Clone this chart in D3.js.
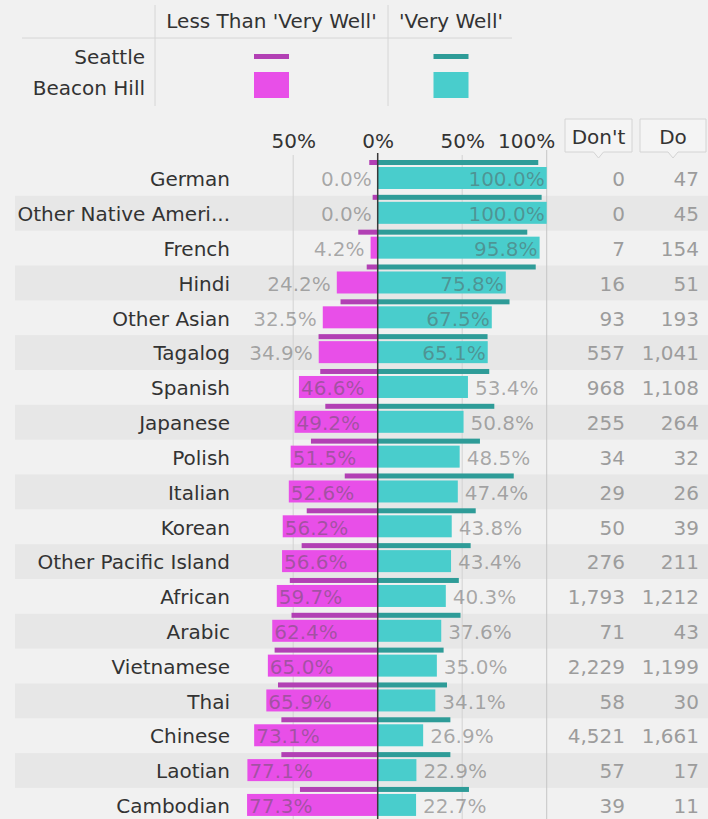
<!DOCTYPE html>
<html>
<head>
<meta charset="utf-8">
<script src="https://cdn.jsdelivr.net/npm/d3@7"></script>
<style>
  html, body { margin: 0; padding: 0; background: #f1f1f1; }
  svg { display: block; font-family: "DejaVu Sans", "Liberation Sans", sans-serif; }
</style>
</head>
<body>
<div id="chart"></div>
<script>
// ---- data ----
const languages = ["German", "Other Native Ameri...", "French", "Hindi", "Other Asian", "Tagalog",
  "Spanish", "Japanese", "Polish", "Italian", "Korean", "Other Pacific Island", "African",
  "Arabic", "Vietnamese", "Thai", "Chinese", "Laotian", "Cambodian"];

// Beacon Hill: speak English less than 'very well' / 'very well' (%)
const bhLess = [0.0, 0.0, 4.2, 24.2, 32.5, 34.9, 46.6, 49.2, 51.5, 52.6, 56.2, 56.6, 59.7, 62.4, 65.0, 65.9, 73.1, 77.1, 77.3];
const bhWell = [100.0, 100.0, 95.8, 75.8, 67.5, 65.1, 53.4, 50.8, 48.5, 47.4, 43.8, 43.4, 40.3, 37.6, 35.0, 34.1, 26.9, 22.9, 22.7];

// Seattle
const seaLess = [5, 3, 11.5, 6.5, 22, 35, 34, 31, 39.5, 19.5, 42, 45, 52, 51, 61, 59, 57, 57, 46];
const seaWell = [95, 97, 88.5, 93.5, 78, 65, 66, 69, 60.5, 80.5, 58, 55, 48, 49, 39, 41, 43, 43, 54];

// counts
const dontCounts = [0, 0, 7, 16, 93, 557, 968, 255, 34, 29, 50, 276, 1793, 71, 2229, 58, 4521, 57, 39];
const doCounts = [47, 45, 154, 51, 193, 1041, 1108, 264, 32, 26, 39, 211, 1212, 43, 1199, 30, 1661, 17, 11];

const axisTicks = [-50, 0, 50, 100];

// ---- style ----
const width = 708, height = 819;
const fontSize = 20;
const textColor = "#333";
const labelColor = "#555";      // percentage labels (drawn with opacity)
const countColor = "#9c9c9c";
const bandColor = "#e7e7e7";
const colors = {
  seaLess: "#b240b4",
  seaWell: "#2e9c98",
  bhLess: "#e84fe8",
  bhWell: "#49cdcc"
};

const rows = languages.map((lang, i) => ({
  lang, i,
  bhLess: bhLess[i], bhWell: bhWell[i],
  seaLess: seaLess[i], seaWell: seaWell[i],
  dont: dontCounts[i], doo: doCounts[i]
}));

const svg = d3.select("#chart").append("svg")
  .attr("width", width).attr("height", height)
  .attr("font-size", fontSize);

svg.append("rect").attr("width", width).attr("height", height).attr("fill", "#f1f1f1");

// scales
const x = d3.scaleLinear().domain([-100, 100]).range([377.7 - 169, 377.7 + 169]);
const y = d3.scaleBand().domain(languages).range([161, 161 + 34.83 * languages.length]);
const bw = y.bandwidth();

// ---- row bands ----
svg.append("g")
  .selectAll("rect")
  .data(rows.filter(d => d.i % 2 === 1))
  .join("rect")
    .attr("x", 15)
    .attr("y", d => y(d.lang))
    .attr("width", width - 15)
    .attr("height", bw)
    .attr("fill", bandColor);

// ---- gridlines ----
const grid = svg.append("g");
grid.selectAll("line")
  .data(axisTicks.filter(t => t !== 0))
  .join("line")
    .attr("x1", d => x(d)).attr("x2", d => x(d))
    .attr("y1", d => d === 100 ? 150 : 155)
    .attr("y2", height)
    .attr("stroke", d => d === 100 ? "#c6c6c6" : "#d2d2d2")
    .attr("stroke-width", 1);

// ---- axis (top) ----
const axis = svg.append("g")
  .attr("transform", "translate(0,152)")
  .call(d3.axisTop(x).tickValues(axisTicks).tickSize(0).tickPadding(4)
    .tickFormat(d => Math.abs(d) + "%"));
axis.select(".domain").remove();
axis.selectAll("text")
  .attr("font-size", fontSize)
  .attr("font-family", "DejaVu Sans, sans-serif")
  .attr("fill", textColor)
  .filter(d => d === 100)
    .attr("text-anchor", "end")
    .attr("dx", 8);

// ---- bars ----
const bars = svg.append("g");

// Seattle (thin)
bars.selectAll(".sea-less")
  .data(rows).join("rect")
    .attr("class", "sea-less")
    .attr("x", d => x(-d.seaLess))
    .attr("y", d => y(d.lang) - 1)
    .attr("width", d => x(0) - x(-d.seaLess))
    .attr("height", 5)
    .attr("fill", colors.seaLess);
bars.selectAll(".sea-well")
  .data(rows).join("rect")
    .attr("class", "sea-well")
    .attr("x", x(0))
    .attr("y", d => y(d.lang) - 1)
    .attr("width", d => x(d.seaWell) - x(0))
    .attr("height", 5)
    .attr("fill", colors.seaWell);

// Beacon Hill (thick)
bars.selectAll(".bh-less")
  .data(rows).join("rect")
    .attr("class", "bh-less")
    .attr("x", d => x(-d.bhLess))
    .attr("y", d => y(d.lang) + 6)
    .attr("width", d => x(0) - x(-d.bhLess))
    .attr("height", 22)
    .attr("fill", colors.bhLess);
bars.selectAll(".bh-well")
  .data(rows).join("rect")
    .attr("class", "bh-well")
    .attr("x", x(0))
    .attr("y", d => y(d.lang) + 6)
    .attr("width", d => x(d.bhWell) - x(0))
    .attr("height", 22)
    .attr("fill", colors.bhWell);

// zero line
svg.append("line")
  .attr("x1", x(0)).attr("x2", x(0))
  .attr("y1", 153).attr("y2", height)
  .attr("stroke", "#3a3a3a").attr("stroke-width", 1.5);

// ---- percentage labels ----
const fmt = d3.format(".1f");
const labels = svg.append("g")
  .attr("fill", labelColor)
  .attr("fill-opacity", 0.47);

// left: inside bar when wide enough, otherwise outside
labels.selectAll(".lab-less")
  .data(rows).join("text")
    .attr("class", "lab-less")
    .attr("x", d => d.bhLess >= 40 ? x(-d.bhLess) + 2 : x(-d.bhLess) - 6)
    .attr("y", d => y(d.lang) + 18)
    .attr("dy", "0.36em")
    .attr("text-anchor", d => d.bhLess >= 40 ? "start" : "end")
    .text(d => fmt(d.bhLess) + "%");

labels.selectAll(".lab-well")
  .data(rows).join("text")
    .attr("class", "lab-well")
    .attr("x", d => d.bhWell >= 60 ? x(d.bhWell) - 2 : x(d.bhWell) + 7)
    .attr("y", d => y(d.lang) + 18)
    .attr("dy", "0.36em")
    .attr("text-anchor", d => d.bhWell >= 60 ? "end" : "start")
    .text(d => fmt(d.bhWell) + "%");

// ---- category labels ----
svg.append("g")
  .selectAll("text")
  .data(rows).join("text")
    .attr("x", 230)
    .attr("y", d => y(d.lang) + 18)
    .attr("dy", "0.36em")
    .attr("text-anchor", "end")
    .attr("fill", textColor)
    .text(d => d.lang);

// ---- counts ----
const countFmt = d3.format(",");
const counts = svg.append("g").attr("fill", countColor).attr("text-anchor", "end");
counts.selectAll(".dont")
  .data(rows).join("text")
    .attr("class", "dont")
    .attr("x", 625)
    .attr("y", d => y(d.lang) + 18)
    .attr("dy", "0.36em")
    .text(d => countFmt(d.dont));
counts.selectAll(".do")
  .data(rows).join("text")
    .attr("class", "do")
    .attr("x", 699)
    .attr("y", d => y(d.lang) + 18)
    .attr("dy", "0.36em")
    .text(d => countFmt(d.doo));

// column header boxes
const headers = [{ t: "Don't", x0: 565, x1: 632 }, { t: "Do", x0: 640, x1: 706 }];
const hg = svg.append("g").selectAll("g").data(headers).join("g");
hg.append("path")
  .attr("d", d => {
    const cx = (d.x0 + d.x1) / 2;
    return `M${d.x0},119H${d.x1}V152H${cx + 5}L${cx},158L${cx - 5},152H${d.x0}Z`;
  })
  .attr("fill", "#f4f4f4")
  .attr("stroke", "#d4d4d4");
hg.append("text")
  .attr("x", d => (d.x0 + d.x1) / 2)
  .attr("y", 137)
  .attr("dy", "0.36em")
  .attr("text-anchor", "middle")
  .attr("fill", textColor)
  .text(d => d.t);

// ---- legend table ----
const legend = svg.append("g");
legend.append("line").attr("x1", 22).attr("x2", 512).attr("y1", 38).attr("y2", 38)
  .attr("stroke", "#d6d6d6");
[155, 388].forEach(lx => {
  legend.append("line").attr("x1", lx).attr("x2", lx).attr("y1", 5).attr("y2", 106)
    .attr("stroke", "#d6d6d6");
});

const legendCols = [
  { t: "Less Than 'Very Well'", cx: 271.5, sea: colors.seaLess, bh: colors.bhLess },
  { t: "'Very Well'", cx: 451, sea: colors.seaWell, bh: colors.bhWell }
];
legend.selectAll(".col-head")
  .data(legendCols).join("text")
    .attr("class", "col-head")
    .attr("x", d => d.cx)
    .attr("y", 21)
    .attr("dy", "0.36em")
    .attr("text-anchor", "middle")
    .attr("fill", textColor)
    .text(d => d.t);
legend.selectAll(".sw-sea")
  .data(legendCols).join("rect")
    .attr("class", "sw-sea")
    .attr("x", d => d.cx - 17.5).attr("y", 54)
    .attr("width", 35).attr("height", 5)
    .attr("fill", d => d.sea);
legend.selectAll(".sw-bh")
  .data(legendCols).join("rect")
    .attr("class", "sw-bh")
    .attr("x", d => d.cx - 17.5).attr("y", 72)
    .attr("width", 35).attr("height", 26)
    .attr("fill", d => d.bh);

legend.selectAll(".row-head")
  .data(["Seattle", "Beacon Hill"]).join("text")
    .attr("class", "row-head")
    .attr("x", 145)
    .attr("y", (d, i) => i === 0 ? 57 : 88)
    .attr("dy", "0.36em")
    .attr("text-anchor", "end")
    .attr("fill", textColor)
    .text(d => d);
</script>
</body>
</html>
